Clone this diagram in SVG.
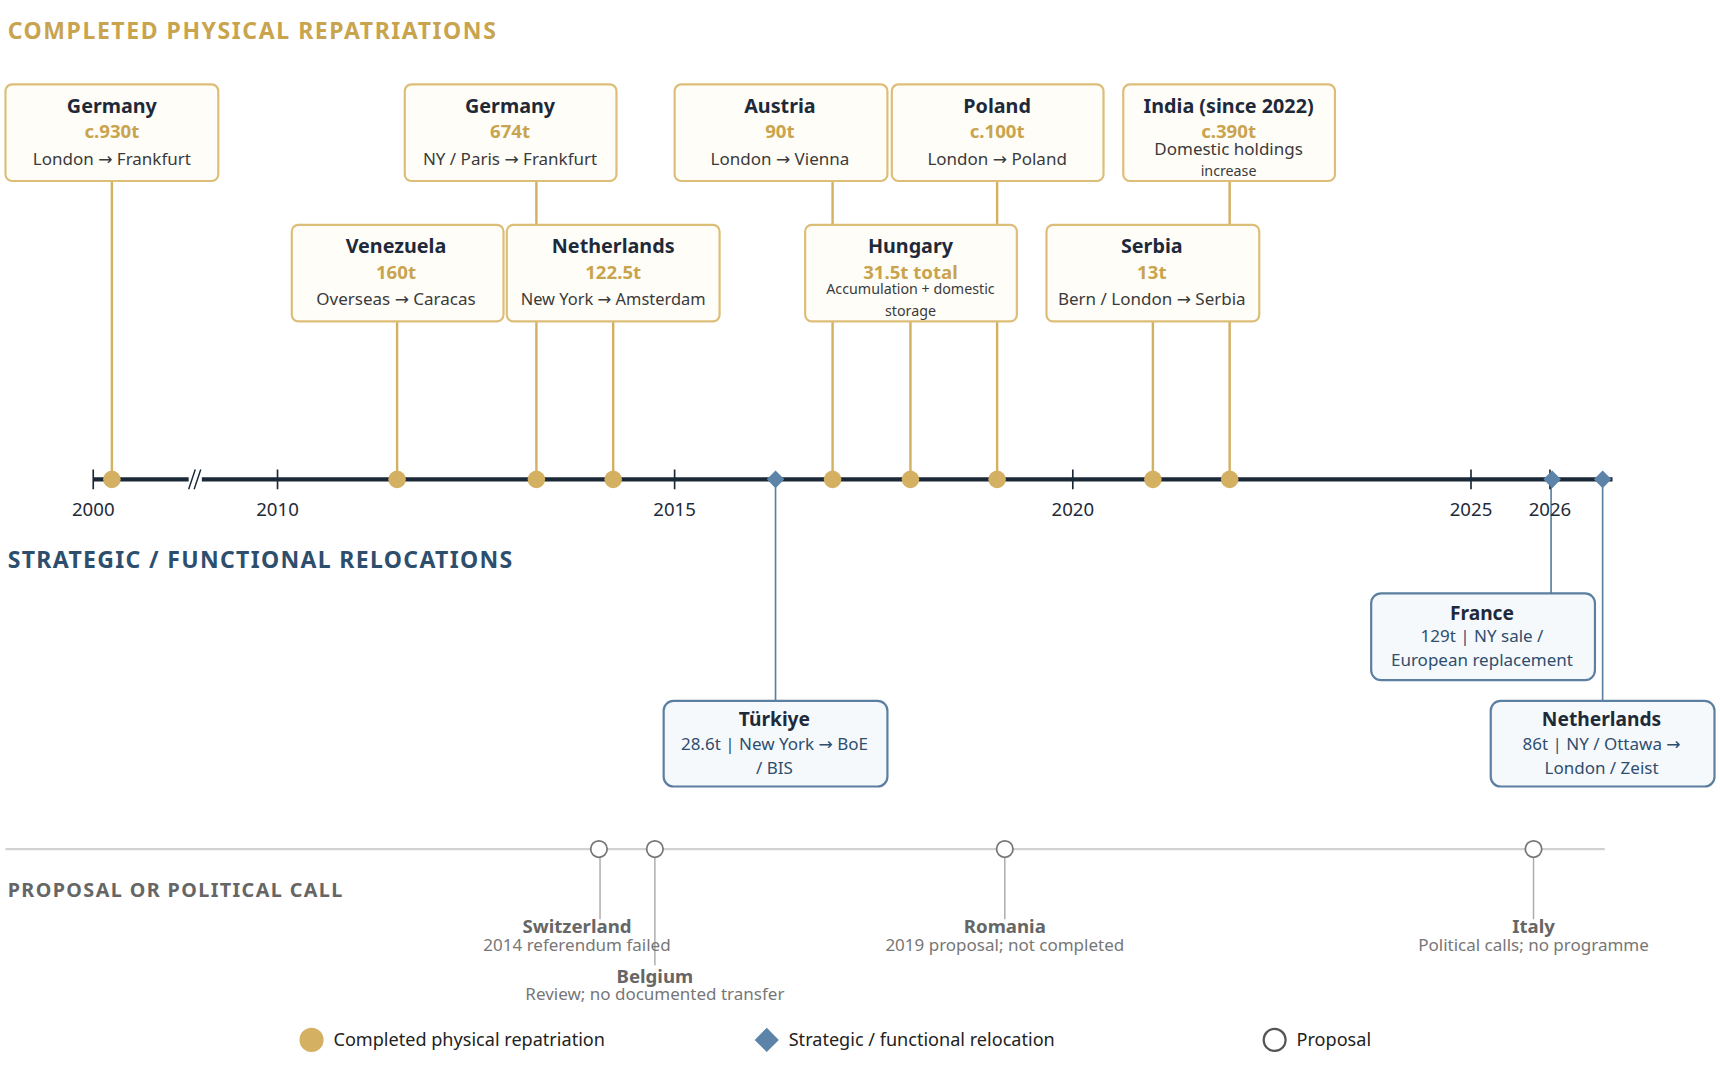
<svg xmlns="http://www.w3.org/2000/svg" width="1720" height="1078" viewBox="0 0 1720 1078">
<style>
text{font-family:"Noto Sans","Open Sans","DejaVu Sans",sans-serif;text-anchor:middle}
.gb{fill:#FFFDF8;stroke:#DDBE78;stroke-width:2}
.bb{fill:#F6F9FC;stroke:#5B7FA0;stroke-width:2}
.nm{font-size:18px;font-weight:700;fill:#1E2A3A}
.gv{font-size:17px;font-weight:700;fill:#C9A44E}
.rt{font-size:15.5px;fill:#3A3A3A}
.sm{font-size:13px;fill:#3A3A3A}
.bt{font-size:15.5px;fill:#2E4E6E}
.gl{stroke:#D4B062;stroke-width:2.2;fill:none}
.bl{stroke:#5B7FA0;stroke-width:1.5;fill:none}
.pl{stroke:#AAAAAA;stroke-width:1.3;fill:none}
.dot{fill:#D4B062}
.dia{fill:#5B84A8}
.pc{fill:#fff;stroke:#777;stroke-width:1.6}
.yr{font-size:17px;fill:#1E2A3A}
.pn{font-size:17px;font-weight:700;fill:#666}
.pd{font-size:15.5px;fill:#777}
.lg{font-size:16.5px;fill:#222;text-anchor:start}
</style>
<rect width="1720" height="1078" fill="#FFFFFF"/>
<g transform="scale(1.09694)">
<text x="7" y="36" textLength="445" style="text-anchor:start;font-size:21px;font-weight:700;fill:#C9A44E">COMPLETED PHYSICAL REPATRIATIONS</text>
<text x="7" y="518" textLength="460" style="text-anchor:start;font-size:21px;font-weight:700;fill:#2E4E6E">STRATEGIC / FUNCTIONAL RELOCATIONS</text>
<text x="7" y="818" textLength="305" style="text-anchor:start;font-size:18px;font-weight:700;fill:#666">PROPOSAL OR POLITICAL CALL</text>

<g id="connectors">
<path class="gl" d="M102 165V437M489 165V205M489 293V437M759 165V205M759 293V437M909 165V205M909 293V437M1121 165V205M1121 293V437M362 293V437M559 293V437M830 293V437M1051 293V437"/>
<path class="bl" d="M707 437V639M1414 437V541M1461 437V639"/>
<path class="pl" d="M547 781V838M597 781V880M916 781V838M1398 781V838"/>
</g>

<g id="axis">
<line x1="85" y1="437" x2="1470" y2="437" stroke="#1B2838" stroke-width="4"/>
<path d="M85 428V446M253 428V446M615 428V446M978 428V446M1341 428V446M1413 428V446" stroke="#1B2838" stroke-width="1.5"/>
<rect x="172" y="430" width="12" height="14" fill="#fff"/>
<path d="M172 446L178 428M177 446L183 428" stroke="#1B2838" stroke-width="1.3"/>
<text class="yr" x="85" y="470">2000</text>
<text class="yr" x="253" y="470">2010</text>
<text class="yr" x="615" y="470">2015</text>
<text class="yr" x="978" y="470">2020</text>
<text class="yr" x="1341" y="470">2025</text>
<text class="yr" x="1413" y="470">2026</text>
</g>

<g id="markers">
<circle class="dot" cx="102" cy="437" r="8"/><circle class="dot" cx="362" cy="437" r="8"/><circle class="dot" cx="489" cy="437" r="8"/><circle class="dot" cx="559" cy="437" r="8"/><circle class="dot" cx="759" cy="437" r="8"/><circle class="dot" cx="830" cy="437" r="8"/><circle class="dot" cx="909" cy="437" r="8"/><circle class="dot" cx="1051" cy="437" r="8"/><circle class="dot" cx="1121" cy="437" r="8"/>
<path class="dia" d="M707 429L715 437L707 445L699 437ZM1415 429L1423 437L1415 445L1407 437ZM1461 429L1469 437L1461 445L1453 437Z"/>
</g>

<g id="germany1"><rect class="gb" x="5" y="77" width="194" height="88" rx="6"/><text class="nm" x="102" y="103">Germany</text><text class="gv" x="102" y="126">c.930t</text><text class="rt" x="102" y="150">London → Frankfurt</text></g>
<g id="germany2"><rect class="gb" x="369" y="77" width="193" height="88" rx="6"/><text class="nm" x="465" y="103">Germany</text><text class="gv" x="465" y="126">674t</text><text class="rt" x="465" y="150">NY / Paris → Frankfurt</text></g>
<g id="austria"><rect class="gb" x="615" y="77" width="194" height="88" rx="6"/><text class="nm" x="711" y="103">Austria</text><text class="gv" x="711" y="126">90t</text><text class="rt" x="711" y="150">London → Vienna</text></g>
<g id="poland"><rect class="gb" x="813" y="77" width="193" height="88" rx="6"/><text class="nm" x="909" y="103">Poland</text><text class="gv" x="909" y="126">c.100t</text><text class="rt" x="909" y="150">London → Poland</text></g>
<g id="india"><rect class="gb" x="1024" y="77" width="193" height="88" rx="6"/><text class="nm" x="1120" y="103">India (since 2022)</text><text class="gv" x="1120" y="126">c.390t</text><text class="rt" x="1120" y="141">Domestic holdings</text><text class="sm" x="1120" y="160">increase</text></g>
<g id="venezuela"><rect class="gb" x="266" y="205" width="193" height="88" rx="6"/><text class="nm" x="361" y="231">Venezuela</text><text class="gv" x="361" y="254">160t</text><text class="rt" x="361" y="278">Overseas → Caracas</text></g>
<g id="netherlands1"><rect class="gb" x="462" y="205" width="194" height="88" rx="6"/><text class="nm" x="559" y="231">Netherlands</text><text class="gv" x="559" y="254">122.5t</text><text class="rt" x="559" y="278" style="font-size:15px">New York → Amsterdam</text></g>
<g id="hungary"><rect class="gb" x="734" y="205" width="193" height="88" rx="6"/><text class="nm" x="830" y="231">Hungary</text><text class="gv" x="830" y="254">31.5t total</text><text class="sm" x="830" y="268">Accumulation + domestic</text><text class="sm" x="830" y="288">storage</text></g>
<g id="serbia"><rect class="gb" x="954" y="205" width="194" height="88" rx="6"/><text class="nm" x="1050" y="231">Serbia</text><text class="gv" x="1050" y="254">13t</text><text class="rt" x="1050" y="278">Bern / London → Serbia</text></g>

<g id="france"><rect class="bb" x="1250" y="541" width="204" height="79" rx="9"/><text class="nm" x="1351" y="565" style="font-size:17.5px">France</text><text class="bt" x="1351" y="585">129t  |  NY sale /</text><text class="bt" x="1351" y="607">European replacement</text></g>
<g id="turkiye"><rect class="bb" x="605" y="639" width="204" height="78" rx="9"/><text class="nm" x="706" y="662" style="font-size:17.5px">Türkiye</text><text class="bt" x="706" y="684">28.6t  |  New York → BoE</text><text class="bt" x="706" y="706">/ BIS</text></g>
<g id="netherlands2"><rect class="bb" x="1359" y="639" width="204" height="78" rx="9"/><text class="nm" x="1460" y="662" style="font-size:17.5px">Netherlands</text><text class="bt" x="1460" y="684">86t  |  NY / Ottawa →</text><text class="bt" x="1460" y="706">London / Zeist</text></g>

<g id="proposals">
<line x1="5" y1="774" x2="1463" y2="774" stroke="#D2D2D2" stroke-width="2"/>
<circle class="pc" cx="546" cy="774" r="7.5"/><circle class="pc" cx="597" cy="774" r="7.5"/><circle class="pc" cx="916" cy="774" r="7.5"/><circle class="pc" cx="1398" cy="774" r="7.5"/>
</g>
<g id="switzerland"><text class="pn" x="526" y="851">Switzerland</text><text class="pd" x="526" y="867">2014 referendum failed</text></g>
<g id="belgium"><text class="pn" x="597" y="896">Belgium</text><text class="pd" x="597" y="912">Review; no documented transfer</text></g>
<g id="romania"><text class="pn" x="916" y="851">Romania</text><text class="pd" x="916" y="867">2019 proposal; not completed</text></g>
<g id="italy"><text class="pn" x="1398" y="851">Italy</text><text class="pd" x="1398" y="867">Political calls; no programme</text></g>

<g id="legend">
<circle class="dot" cx="284" cy="948" r="11"/><text class="lg" x="304" y="954">Completed physical repatriation</text>
<path class="dia" d="M699 937L710 948L699 959L688 948Z"/><text class="lg" x="719" y="954">Strategic / functional relocation</text>
<circle cx="1162" cy="948" r="10" fill="#fff" stroke="#555" stroke-width="2"/><text class="lg" x="1182" y="954">Proposal</text>
</g>
</g>
</svg>
